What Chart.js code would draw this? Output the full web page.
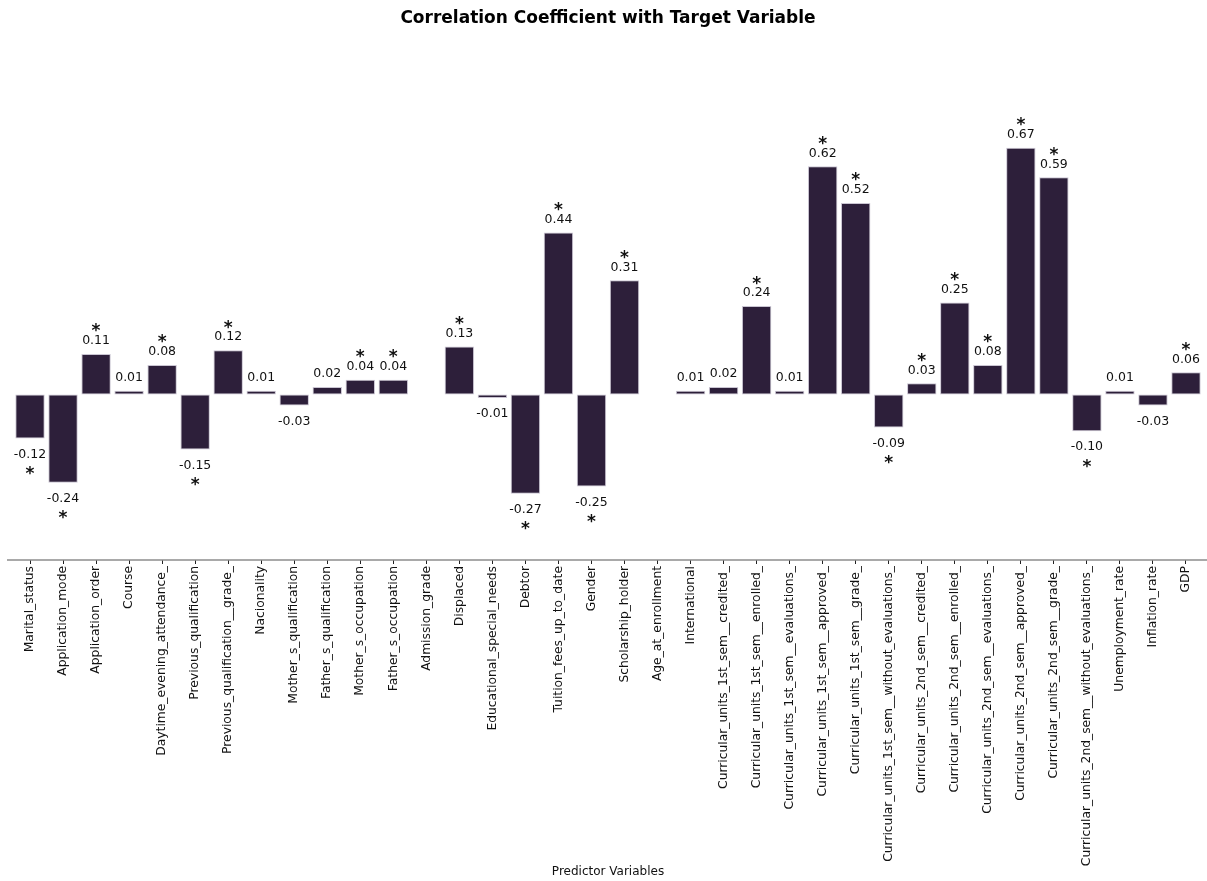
<!DOCTYPE html>
<html>
<head>
<meta charset="utf-8">
<script src="https://cdn.jsdelivr.net/npm/chart.js@4.4.1/dist/chart.umd.min.js"></script>
<style>
  html, body { margin: 0; padding: 0; background: #ffffff; }
  #wrap { width: 1207px; height: 881px; }
</style>
</head>
<body>
<div id="wrap"><canvas id="c" width="1207" height="881"></canvas></div>
<script>
const categories = [
  "Marital_status", "Application_mode", "Application_order", "Course",
  "Daytime_evening_attendance_", "Previous_qualification", "Previous_qualification__grade_",
  "Nacionality", "Mother_s_qualification", "Father_s_qualification", "Mother_s_occupation",
  "Father_s_occupation", "Admission_grade", "Displaced", "Educational_special_needs",
  "Debtor", "Tuition_fees_up_to_date", "Gender", "Scholarship_holder", "Age_at_enrollment",
  "International", "Curricular_units_1st_sem__credited_", "Curricular_units_1st_sem__enrolled_",
  "Curricular_units_1st_sem__evaluations_", "Curricular_units_1st_sem__approved_",
  "Curricular_units_1st_sem__grade_", "Curricular_units_1st_sem__without_evaluations_",
  "Curricular_units_2nd_sem__credited_", "Curricular_units_2nd_sem__enrolled_",
  "Curricular_units_2nd_sem__evaluations_", "Curricular_units_2nd_sem__approved_",
  "Curricular_units_2nd_sem__grade_", "Curricular_units_2nd_sem__without_evaluations_",
  "Unemployment_rate", "Inflation_rate", "GDP"
];

const correlations = [
  -0.12, -0.24, 0.11, 0.01,
  0.08, -0.15, 0.12,
  0.01, -0.03, 0.02, 0.04,
  0.04, null, 0.13, -0.01,
  -0.27, 0.44, -0.25, 0.31, null,
  0.01, 0.02, 0.24,
  0.01, 0.62,
  0.52, -0.09,
  0.03, 0.25,
  0.08, 0.67,
  0.59, -0.10,
  0.01, -0.03, 0.06
];

const significant = [
  true, true, true, false,
  true, true, true,
  false, false, false, true,
  true, false, true, false,
  true, true, true, true, false,
  false, false, true,
  false, true,
  true, true,
  true, true,
  true, true,
  true, true,
  false, false, true
];

const titleText = "Correlation Coefficient with Target Variable";
const xAxisTitle = "Predictor Variables";

const annotatePlugin = {
  id: 'annotate',
  afterDatasetsDraw(chart) {
    const ctx = chart.ctx;
    const meta = chart.getDatasetMeta(0);
    ctx.save();
    ctx.textAlign = 'center';
    ctx.textBaseline = 'middle';
    ctx.fillStyle = '#111111';
    meta.data.forEach((bar, i) => {
      const v = correlations[i];
      if (v === null || v === undefined) return;
      const txt = v.toFixed(2);
      const y = bar.y;
      ctx.font = '12.5px "DejaVu Sans"';
      if (v >= 0) {
        ctx.fillText(txt, bar.x, y - 13);
        if (significant[i]) {
          ctx.font = 'bold 17px "DejaVu Sans"';
          ctx.fillText('*', bar.x, y - 22);
        }
      } else {
        ctx.fillText(txt, bar.x, y + 16);
        if (significant[i]) {
          ctx.font = 'bold 17px "DejaVu Sans"';
          ctx.fillText('*', bar.x, y + 36);
        }
      }
    });
    ctx.restore();
  }
};

const baselinePlugin = {
  id: 'baseline',
  afterDraw(chart) {
    const ctx = chart.ctx;
    const yb = chart.chartArea.bottom;
    ctx.save();
    ctx.strokeStyle = '#8c8c8c';
    ctx.lineWidth = 1.3;
    ctx.beginPath();
    ctx.moveTo(7, yb);
    ctx.lineTo(chart.width, yb);
    ctx.stroke();
    ctx.restore();
  }
};

new Chart(document.getElementById('c'), {
  type: 'bar',
  data: {
    labels: categories,
    datasets: [{
      data: correlations,
      backgroundColor: '#2d1f3a',
      borderColor: 'rgba(150,140,165,0.5)',
      borderWidth: 1,
      borderSkipped: false,
      categoryPercentage: 1.0,
      barPercentage: 0.89
    }]
  },
  options: {
    responsive: false,
    devicePixelRatio: 1,
    animation: false,
    layout: { padding: { left: 13.5, right: 4.5, top: 0, bottom: 0 } },
    plugins: {
      legend: { display: false },
      tooltip: { enabled: false },
      title: {
        display: true,
        text: titleText,
        color: '#000000',
        font: { family: 'DejaVu Sans', size: 17, weight: 'bold' },
        padding: { top: 8, bottom: 20.1 }
      }
    },
    scales: {
      x: {
        offset: true,
        grid: { display: true, drawOnChartArea: false, drawTicks: true, tickLength: 4, color: '#222222', offset: false },
        border: { display: false },
        ticks: {
          autoSkip: false,
          maxRotation: 90,
          minRotation: 90,
          padding: 2,
          color: '#111111',
          font: { family: 'DejaVu Sans', size: 12.3 }
        },
        title: {
          display: true,
          text: xAxisTitle,
          color: '#111111',
          font: { family: 'DejaVu Sans', size: 12 },
          padding: { top: 0, bottom: 1.5 }
        },
        afterFit(scale) { scale.height = 321; }
      },
      y: {
        display: false,
        min: -0.45,
        max: 0.94
      }
    }
  },
  plugins: [annotatePlugin, baselinePlugin]
});
</script>
</body>
</html>
